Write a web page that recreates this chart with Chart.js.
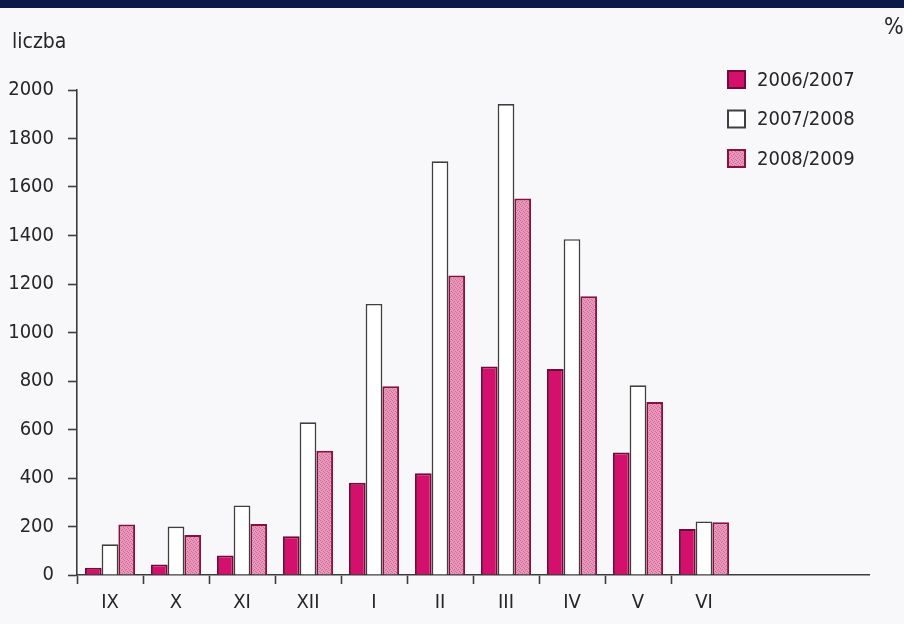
<!DOCTYPE html>
<html lang="pl">
<head>
<meta charset="utf-8">
<title>liczba – 2006/2007, 2007/2008, 2008/2009</title>
<script src="https://cdn.jsdelivr.net/npm/chart.js@4/dist/chart.umd.min.js"></script>
<style>
  html, body { margin: 0; padding: 0; background: #f8f8fa; overflow: hidden; }
  canvas { display: block; }
</style>
</head>
<body>
<canvas id="chart" width="904" height="624"></canvas>
<script>
// Months of the season (IX–VI), plus two empty summer slots on the axis
const months = ['IX', 'X', 'XI', 'XII', 'I', 'II', 'III', 'IV', 'V', 'VI'];
const emptySlots = ['', ''];

// Counts per month for each season
const season0607 = [30, 43, 80, 160, 380, 420, 860, 850, 505, 190];
const season0708 = [127, 200, 287, 630, 1118, 1706, 1942, 1385, 782, 221];
const season0809 = [208, 165, 210, 512, 778, 1235, 1553, 1150, 713, 218];

const seasonLabels = ['2006/2007', '2007/2008', '2008/2009'];

// Y axis range and step
const yMin = 0;
const yMax = 2000;
const yStep = 200;

const FONT = "'DejaVu Sans Condensed', 'Liberation Sans Narrow', sans-serif";
const INK = '#262626';
const AXIS = '#3c3c3c';

// Fine dotted pink texture for the 2008/2009 bars
function pinkTexture() {
  const c = document.createElement('canvas');
  c.width = 4; c.height = 4;
  const g = c.getContext('2d');
  g.fillStyle = '#e898bb';
  g.fillRect(0, 0, 4, 4);
  g.fillStyle = '#cf6896';
  g.fillRect(0, 0, 1, 1);
  g.fillRect(2, 1, 1, 1);
  g.fillRect(1, 2, 1, 1);
  g.fillRect(3, 3, 1, 1);
  return g.createPattern(c, 'repeat');
}

// Page background, top band, axis captions and the legend box
const decorations = {
  id: 'decorations',
  beforeDraw(chart) {
    const { ctx, width, height } = chart;
    ctx.save();
    ctx.fillStyle = '#f8f8fa';
    ctx.fillRect(0, 0, width, height);
    ctx.fillStyle = '#0b1a46';
    ctx.fillRect(0, 0, width, 8);
    ctx.restore();
  },
  afterDraw(chart) {
    const { ctx } = chart;
    ctx.save();
    ctx.fillStyle = INK;
    ctx.textBaseline = 'middle';
    ctx.font = `21px ${FONT}`;
    ctx.textAlign = 'left';
    ctx.fillText('liczba', 12, 43);
    ctx.font = `23px ${FONT}`;
    ctx.fillText('%', 884, 28);

    // legend
    const x0 = 727, y0 = 70, box = 19, gap = 39.5;
    ctx.font = `20px ${FONT}`;
    chart.data.datasets.forEach((ds, i) => {
      const y = y0 + i * gap;
      ctx.fillStyle = ds.backgroundColor;
      ctx.fillRect(x0, y, box, box);
      ctx.lineWidth = 2;
      ctx.strokeStyle = ds.borderColor;
      ctx.strokeRect(x0 + 1, y + 1, box - 2, box - 2);
      ctx.fillStyle = INK;
      ctx.textAlign = 'left';
      ctx.fillText(ds.label, x0 + box + 11, y + box / 2 + 1);
    });
    ctx.restore();
  }
};

new Chart(document.getElementById('chart'), {
  type: 'bar',
  data: {
    labels: months.concat(emptySlots),
    datasets: [
      {
        label: seasonLabels[0],
        data: season0607,
        backgroundColor: '#d3116d',
        borderColor: '#720b38',
        borderWidth: 2
      },
      {
        label: seasonLabels[1],
        data: season0708,
        backgroundColor: '#ffffff',
        borderColor: '#3f3f3f',
        borderWidth: 1.7
      },
      {
        label: seasonLabels[2],
        data: season0809,
        backgroundColor: pinkTexture(),
        borderColor: '#85123f',
        borderWidth: 2
      }
    ]
  },
  options: {
    responsive: false,
    animation: false,
    devicePixelRatio: 1,
    layout: { padding: { top: 90, right: 35, left: 0, bottom: 0 } },
    datasets: {
      bar: { categoryPercentage: 0.76, barPercentage: 1.0 }
    },
    plugins: {
      legend: { display: false },
      tooltip: { enabled: false },
      title: { display: false }
    },
    scales: {
      x: {
        offset: true,
        grid: {
          offset: true,
          drawOnChartArea: false,
          drawTicks: true,
          tickLength: 9,
          tickWidth: 1.6,
          tickColor: (c) => (c.index <= months.length - 1 ? AXIS : 'rgba(0,0,0,0)')
        },
        border: { display: true, color: AXIS, width: 1.6 },
        ticks: {
          color: INK,
          font: { family: FONT, size: 20 },
          padding: 7,
          maxRotation: 0,
          autoSkip: false
        },
        afterFit(scale) { scale.height = 49; }
      },
      y: {
        min: yMin,
        max: yMax,
        grid: {
          drawOnChartArea: false,
          drawTicks: true,
          tickLength: 9,
          tickWidth: 1.6,
          tickColor: AXIS
        },
        border: { display: true, color: AXIS, width: 1.6 },
        ticks: {
          stepSize: yStep,
          color: INK,
          font: { family: FONT, size: 20 },
          padding: 14,
          callback: (v) => String(v)
        },
        afterFit(scale) { scale.width = 77; }
      }
    }
  },
  plugins: [decorations]
});
</script>
</body>
</html>
